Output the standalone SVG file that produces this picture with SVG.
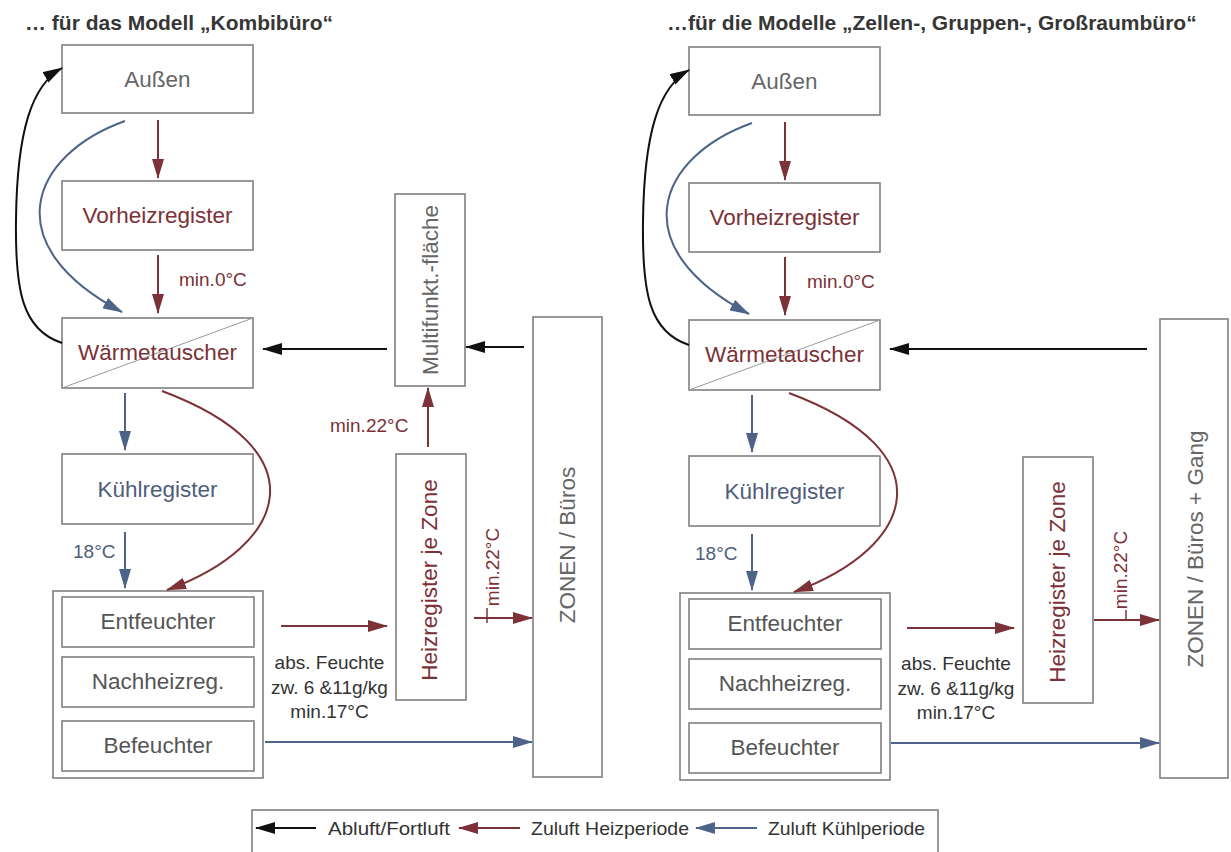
<svg xmlns="http://www.w3.org/2000/svg" width="1231" height="852" viewBox="0 0 1231 852">
<style>
.bx{fill:none;stroke:#808080;stroke-width:1.6}
.dg{stroke:#9a9a9a;stroke-width:1;fill:none}
.t{font-family:"Liberation Sans",Arial,sans-serif;font-size:22.5px;text-anchor:middle}
.s{font-family:"Liberation Sans",Arial,sans-serif;font-size:19px}
.ttl{font-family:"Liberation Sans",Arial,sans-serif;font-size:21px;font-weight:bold;fill:#363636}
.g{fill:#666}
.g2{fill:#555}
.r{fill:#7b3136}
.b{fill:#4f5d7b}
.k{fill:#333}
.ar{fill:none;stroke:#7d3237;stroke-width:2}
.ab{fill:none;stroke:#4d6387;stroke-width:2}
.ak{fill:none;stroke:#111;stroke-width:2}
</style>
<defs>
<marker id="mr" viewBox="0 0 20 12" markerUnits="userSpaceOnUse" markerWidth="20" markerHeight="12" refX="19" refY="6" orient="auto"><path d="M0,0 L20,6 L0,12 z" fill="#7d3237"/></marker>
<marker id="mb" viewBox="0 0 20 12" markerUnits="userSpaceOnUse" markerWidth="20" markerHeight="12" refX="19" refY="6" orient="auto"><path d="M0,0 L20,6 L0,12 z" fill="#4d6387"/></marker>
<marker id="mk" viewBox="0 0 20 12" markerUnits="userSpaceOnUse" markerWidth="20" markerHeight="12" refX="19" refY="6" orient="auto"><path d="M0,0 L20,6 L0,12 z" fill="#111"/></marker>
</defs>
<rect width="1231" height="852" fill="#fff"/>

<text class="ttl" x="25" y="30">… für das Modell „Kombibüro“</text>
<text class="ttl" x="667" y="30">…für die Modelle „Zellen-, Gruppen-, Großraumbüro“</text>

<!-- LEFT PANEL NODES -->
<g id="L-aussen"><rect class="bx" x="62" y="45" width="191" height="68"/><text class="t g" x="157.5" y="87">Außen</text></g>
<g id="L-vorheiz"><rect class="bx" x="62" y="181" width="191" height="69"/><text class="t r" x="157.5" y="223">Vorheizregister</text></g>
<g id="L-waerme"><rect class="bx" x="62" y="318" width="191" height="70"/><line class="dg" x1="62" y1="388" x2="253" y2="318"/><text class="t r" x="157.5" y="360">Wärmetauscher</text></g>
<g id="L-kuehl"><rect class="bx" x="62" y="454" width="191" height="70"/><text class="t b" x="157.5" y="497">Kühlregister</text></g>
<g id="L-aufbereitung">
<rect class="bx" x="53" y="591" width="210" height="187"/>
<rect class="bx" x="62" y="597" width="192" height="50"/><text class="t g2" x="158" y="629">Entfeuchter</text>
<rect class="bx" x="62" y="657" width="192" height="50"/><text class="t g2" x="158" y="689">Nachheizreg.</text>
<rect class="bx" x="62" y="721" width="192" height="50"/><text class="t g2" x="158" y="753">Befeuchter</text>
</g>
<g id="L-multi"><rect class="bx" x="395" y="194" width="70" height="192"/><text class="t g" transform="translate(438,290) rotate(-90)">Multifunkt.-fläche</text></g>
<g id="L-heiz"><rect class="bx" x="396" y="454" width="70" height="246"/><text class="t r" transform="translate(437,580) rotate(-90)">Heizregister  je Zone</text></g>
<g id="L-zonen"><rect class="bx" x="533" y="317" width="69" height="460"/><text class="t g" transform="translate(575,545) rotate(-90)">ZONEN  / Büros</text></g>

<!-- LEFT LABELS -->
<g id="L-labels">
<text class="s r" x="179" y="286">min.0°C</text>
<text class="s b" x="73" y="558">18°C</text>
<text class="s r" x="330" y="432">min.22°C</text>
<text class="s r" transform="translate(499,567) rotate(-90)" text-anchor="middle">min.22°C</text>
<text class="s k" text-anchor="middle" x="329.5" y="669">abs. Feuchte</text>
<text class="s k" text-anchor="middle" x="329.5" y="694">zw. 6 &amp;11g/kg</text>
<text class="s k" text-anchor="middle" x="329.5" y="718">min.17°C</text>
</g>

<!-- RIGHT PANEL NODES -->
<g id="R-aussen"><rect class="bx" x="689" y="47" width="191" height="68"/><text class="t g" x="784.5" y="89">Außen</text></g>
<g id="R-vorheiz"><rect class="bx" x="689" y="183" width="191" height="69"/><text class="t r" x="784.5" y="225">Vorheizregister</text></g>
<g id="R-waerme"><rect class="bx" x="689" y="320" width="191" height="70"/><line class="dg" x1="689" y1="390" x2="880" y2="320"/><text class="t r" x="784.5" y="362">Wärmetauscher</text></g>
<g id="R-kuehl"><rect class="bx" x="689" y="456" width="191" height="70"/><text class="t b" x="784.5" y="499">Kühlregister</text></g>
<g id="R-aufbereitung">
<rect class="bx" x="680" y="593" width="210" height="187"/>
<rect class="bx" x="689" y="599" width="192" height="50"/><text class="t g2" x="785" y="631">Entfeuchter</text>
<rect class="bx" x="689" y="659" width="192" height="50"/><text class="t g2" x="785" y="691">Nachheizreg.</text>
<rect class="bx" x="689" y="723" width="192" height="50"/><text class="t g2" x="785" y="755">Befeuchter</text>
</g>
<g id="R-heiz"><rect class="bx" x="1023" y="457" width="70" height="246"/><text class="t r" transform="translate(1065,582) rotate(-90)">Heizregister  je Zone</text></g>
<g id="R-zonen"><rect class="bx" x="1160" y="319" width="68" height="459"/><text class="t g" transform="translate(1203,549) rotate(-90)">ZONEN / Büros + Gang</text></g>

<!-- RIGHT LABELS -->
<g id="R-labels">
<text class="s r" x="807" y="288">min.0°C</text>
<text class="s b" x="695" y="560">18°C</text>
<text class="s r" transform="translate(1127,570) rotate(-90)" text-anchor="middle">min.22°C</text>
<text class="s k" text-anchor="middle" x="956" y="670">abs. Feuchte</text>
<text class="s k" text-anchor="middle" x="956" y="695">zw. 6 &amp;11g/kg</text>
<text class="s k" text-anchor="middle" x="956" y="719">min.17°C</text>
</g>

<!-- CONNECTORS -->
<g id="connectors">
<path class="ar" d="M158,120 V178" marker-end="url(#mr)"/>
<path class="ar" d="M158,255 V313" marker-end="url(#mr)"/>
<path class="ab" d="M125,121 C30,155 -5,245 122,312" marker-end="url(#mb)"/>
<path class="ak" d="M62,343 C22,330 15,290 16,220 C17,130 32,85 62,68" marker-end="url(#mk)"/>
<path class="ak" d="M387,349 H263" marker-end="url(#mk)"/>
<path class="ak" d="M524,347 H466" marker-end="url(#mk)"/>
<path class="ab" d="M125,393 V450" marker-end="url(#mb)"/>
<path class="ar" d="M162,391 C320,450 290,545 167,590" marker-end="url(#mr)"/>
<path class="ar" d="M428,447 V388" marker-end="url(#mr)"/>
<path class="ab" d="M125,532 V588" marker-end="url(#mb)"/>
<path class="ar" d="M281,626 H387" marker-end="url(#mr)"/>
<path class="ar" d="M474,618 H532" marker-end="url(#mr)"/>
<path class="ar" d="M487,608 V623" style="stroke-width:1.5"/>
<path class="ab" d="M265,742 H532" marker-end="url(#mb)"/>

<path class="ar" d="M785,122 V180" marker-end="url(#mr)"/>
<path class="ar" d="M785,257 V315" marker-end="url(#mr)"/>
<path class="ab" d="M752,123 C657,157 622,247 749,314" marker-end="url(#mb)"/>
<path class="ak" d="M689,345 C649,332 642,292 643,222 C644,132 659,87 689,70" marker-end="url(#mk)"/>
<path class="ak" d="M1147,349 H890" marker-end="url(#mk)"/>
<path class="ab" d="M752,395 V452" marker-end="url(#mb)"/>
<path class="ar" d="M789,393 C947,452 917,547 794,592" marker-end="url(#mr)"/>
<path class="ab" d="M752,534 V590" marker-end="url(#mb)"/>
<path class="ar" d="M907,628 H1014" marker-end="url(#mr)"/>
<path class="ar" d="M1094,620 H1159" marker-end="url(#mr)"/>
<path class="ar" d="M1126,610 V620" style="stroke-width:1.5"/>
<path class="ab" d="M891,743 H1159" marker-end="url(#mb)"/>
</g>

<!-- LEGEND -->
<g id="legend">
<rect class="bx" x="252" y="810" width="686" height="60"/>
<path class="ak" d="M316,828 H256" marker-end="url(#mk)"/>
<text class="s k" x="328" y="835" textLength="122" lengthAdjust="spacingAndGlyphs">Abluft/Fortluft</text>
<path class="ar" d="M520,828 H459" marker-end="url(#mr)"/>
<text class="s k" x="531" y="835" textLength="158" lengthAdjust="spacingAndGlyphs">Zuluft Heizperiode</text>
<path class="ab" d="M757,828 H696" marker-end="url(#mb)"/>
<text class="s k" x="768" y="835" textLength="157" lengthAdjust="spacingAndGlyphs">Zuluft Kühlperiode</text>
</g>
</svg>
